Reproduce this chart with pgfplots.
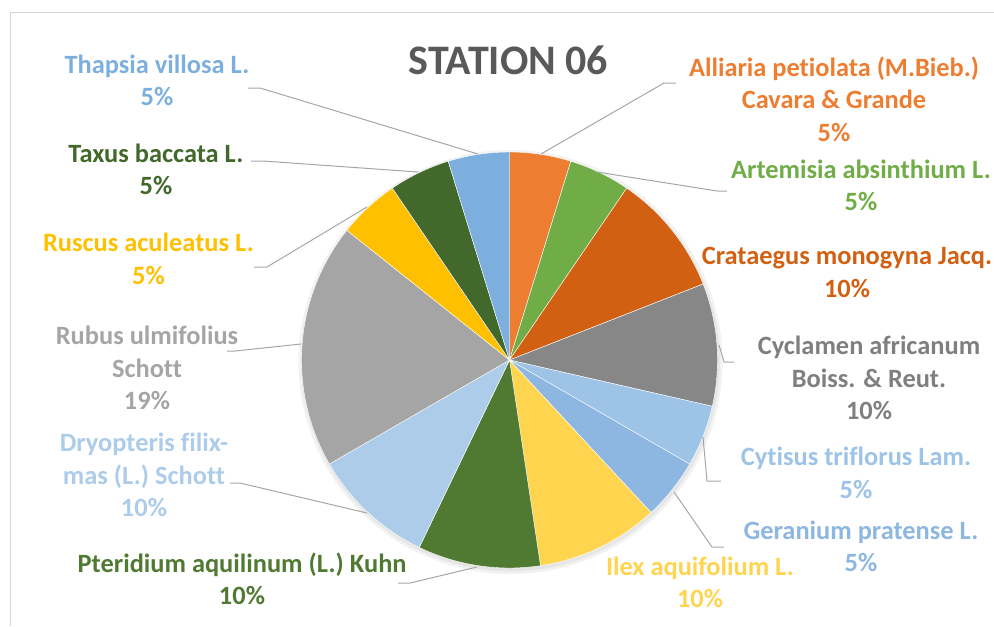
\documentclass[border=0pt]{standalone}
\usepackage{fontspec}
\setmainfont{Carlito}[Ligatures=NoCommon]
\usepackage{pgfplots}
\usepackage{pgfplotstable}
\pgfplotsset{compat=1.18}

% slice colours, clockwise from the top
\definecolor{pie0}{HTML}{ED7D31}
\definecolor{pie1}{HTML}{70AD47}
\definecolor{pie2}{HTML}{D26012}
\definecolor{pie3}{HTML}{878787}
\definecolor{pie4}{HTML}{9DC3E6}
\definecolor{pie5}{HTML}{8DB7E1}
\definecolor{pie6}{HTML}{FFD44F}
\definecolor{pie7}{HTML}{507A32}
\definecolor{pie8}{HTML}{ADCCEA}
\definecolor{pie9}{HTML}{A5A5A5}
\definecolor{pie10}{HTML}{FFC000}
\definecolor{pie11}{HTML}{43682B}
\definecolor{pie12}{HTML}{7CAFDD}
\definecolor{leader}{HTML}{A6A6A6}
\definecolor{titlegray}{HTML}{595959}
\definecolor{labgray}{HTML}{7F7F7F}

\pgfplotstableread[col sep=comma]{
species,count
Alliaria petiolata,1
Artemisia absinthium,1
Crataegus monogyna,2
Cyclamen africanum,2
Cytisus triflorus,1
Geranium pratense,1
Ilex aquifolium,2
Pteridium aquilinum,2
Dryopteris filix-mas,2
Rubus ulmifolius,4
Ruscus aculeatus,1
Taxus baccata,1
Thapsia villosa,1
}\pietable

% total and start/end angles of each slice
\def\pietotal{0}
\pgfplotsforeachungrouped \i in {0,...,12}{%
  \pgfplotstablegetelem{\i}{count}\of\pietable
  \pgfmathsetmacro\pietotal{\pietotal+\pgfplotsretval}%
}
\def\pieacc{0}
\pgfplotsforeachungrouped \i in {0,...,12}{%
  \pgfplotstablegetelem{\i}{count}\of\pietable
  \pgfmathsetmacro\wedgehi{90-360*\pieacc/\pietotal}%
  \pgfmathsetmacro\pieacc{\pieacc+\pgfplotsretval}%
  \pgfmathsetmacro\wedgelo{90-360*\pieacc/\pietotal}%
  \expandafter\xdef\csname wedgeA\i\endcsname{\wedgehi}%
  \expandafter\xdef\csname wedgeB\i\endcsname{\wedgelo}%
}

\def\cx{509.5}
\def\cy{360}
\def\R{208}

\tikzset{
  lab/.style={font=\fontsize{19.8pt}{24.4pt}\selectfont\bfseries, align=center},
  lead/.style={draw=leader, line width=0.75pt}
}

\begin{document}
\begin{tikzpicture}
\begin{axis}[
  scale only axis,
  width=745.5pt, height=469.5pt,
  xmin=0, xmax=994, ymin=0, ymax=626,
  y dir=reverse,
  hide axis, clip=false
]
% chart frame (cropped at right and bottom)
\draw[draw=black!17, line width=0.75pt] (10,626) -- (10,12) -- (994,12);

% soft shadow
\fill[black, opacity=0.05] (\cx+1,\cy+2) circle[radius=159pt];
\fill[black, opacity=0.05] (\cx+1,\cy+2) circle[radius=157pt];

\pgfplotsinvokeforeach{0,...,12}{
  \edef\wa{\csname wedgeB#1\endcsname}
  \edef\wb{\csname wedgeA#1\endcsname}
  \addplot[fill=pie#1, draw=white, line width=0.3pt, domain=\wa:\wb, samples=60]
    ({\cx+\R*cos(x)}, {\cy-\R*sin(x)}) -- (\cx,\cy) -- cycle;
}

\node[font=\fontsize{31.5pt}{36pt}\selectfont\bfseries, text=titlegray] at (508.5,60) {STATION 06};

% leader lines
\draw[lead] (248,88) -- (260,88) -- (478,154);
\draw[lead] (251,161) -- (263,161) -- (418,172);
\draw[lead] (254,267) -- (267,267) -- (367,207);
\draw[lead] (227,351) -- (235,351) -- (301,344);
\draw[lead] (230,483) -- (240,483) -- (367,513);
\draw[lead] (398,583) -- (410,583) -- (477,567);
\draw[lead] (541,154) -- (664,83) -- (676,83);
\draw[lead] (597,172) -- (717,191) -- (727,191);
\draw[lead] (719,345) -- (724,362) -- (734,362);
\draw[lead] (703,437) -- (707,481) -- (721,481);
\draw[lead] (674,492) -- (712,547) -- (724,547);

% data labels
\node[lab, text=pie12] at (157,80.5) {Thapsia villosa L.\\5\%};
\node[lab, text=pie11] at (156,169.5) {Taxus baccata L.\\5\%};
\node[lab, text=pie10] at (148.5,259) {Ruscus aculeatus L.\\5\%};
\node[lab, text=pie9] at (147,368) {Rubus ulmifolius\\Schott\\19\%};
\node[lab, text=pie8] at (144,475) {Dryopteris filix-\\mas (L.) Schott\\10\%};
\node[lab, text=pie7] at (242,579) {Pteridium aquilinum (L.) Kuhn\\10\%};
\node[lab, text=pie0] at (834,99) {Alliaria petiolata (M.Bieb.)\\Cavara \& Grande\\5\%};
\node[lab, text=pie1] at (861,185.5) {Artemisia absinthium L.\\5\%};
\node[lab, text=pie2] at (847,272.5) {Crataegus monogyna Jacq.\\10\%};
\node[lab, text=labgray] at (869,378) {Cyclamen africanum\\Boiss. \& Reut.\\10\%};
\node[lab, text=pie4] at (856,473) {Cytisus triflorus Lam.\\5\%};
\node[lab, text=pie5] at (861,546.5) {Geranium pratense L.\\5\%};
\node[lab, text=pie6] at (700,582.5) {Ilex aquifolium L.\\10\%};
\end{axis}
\pgfresetboundingbox
\path[use as bounding box] (current axis.south west) rectangle (current axis.north east);
\end{tikzpicture}
\end{document}
